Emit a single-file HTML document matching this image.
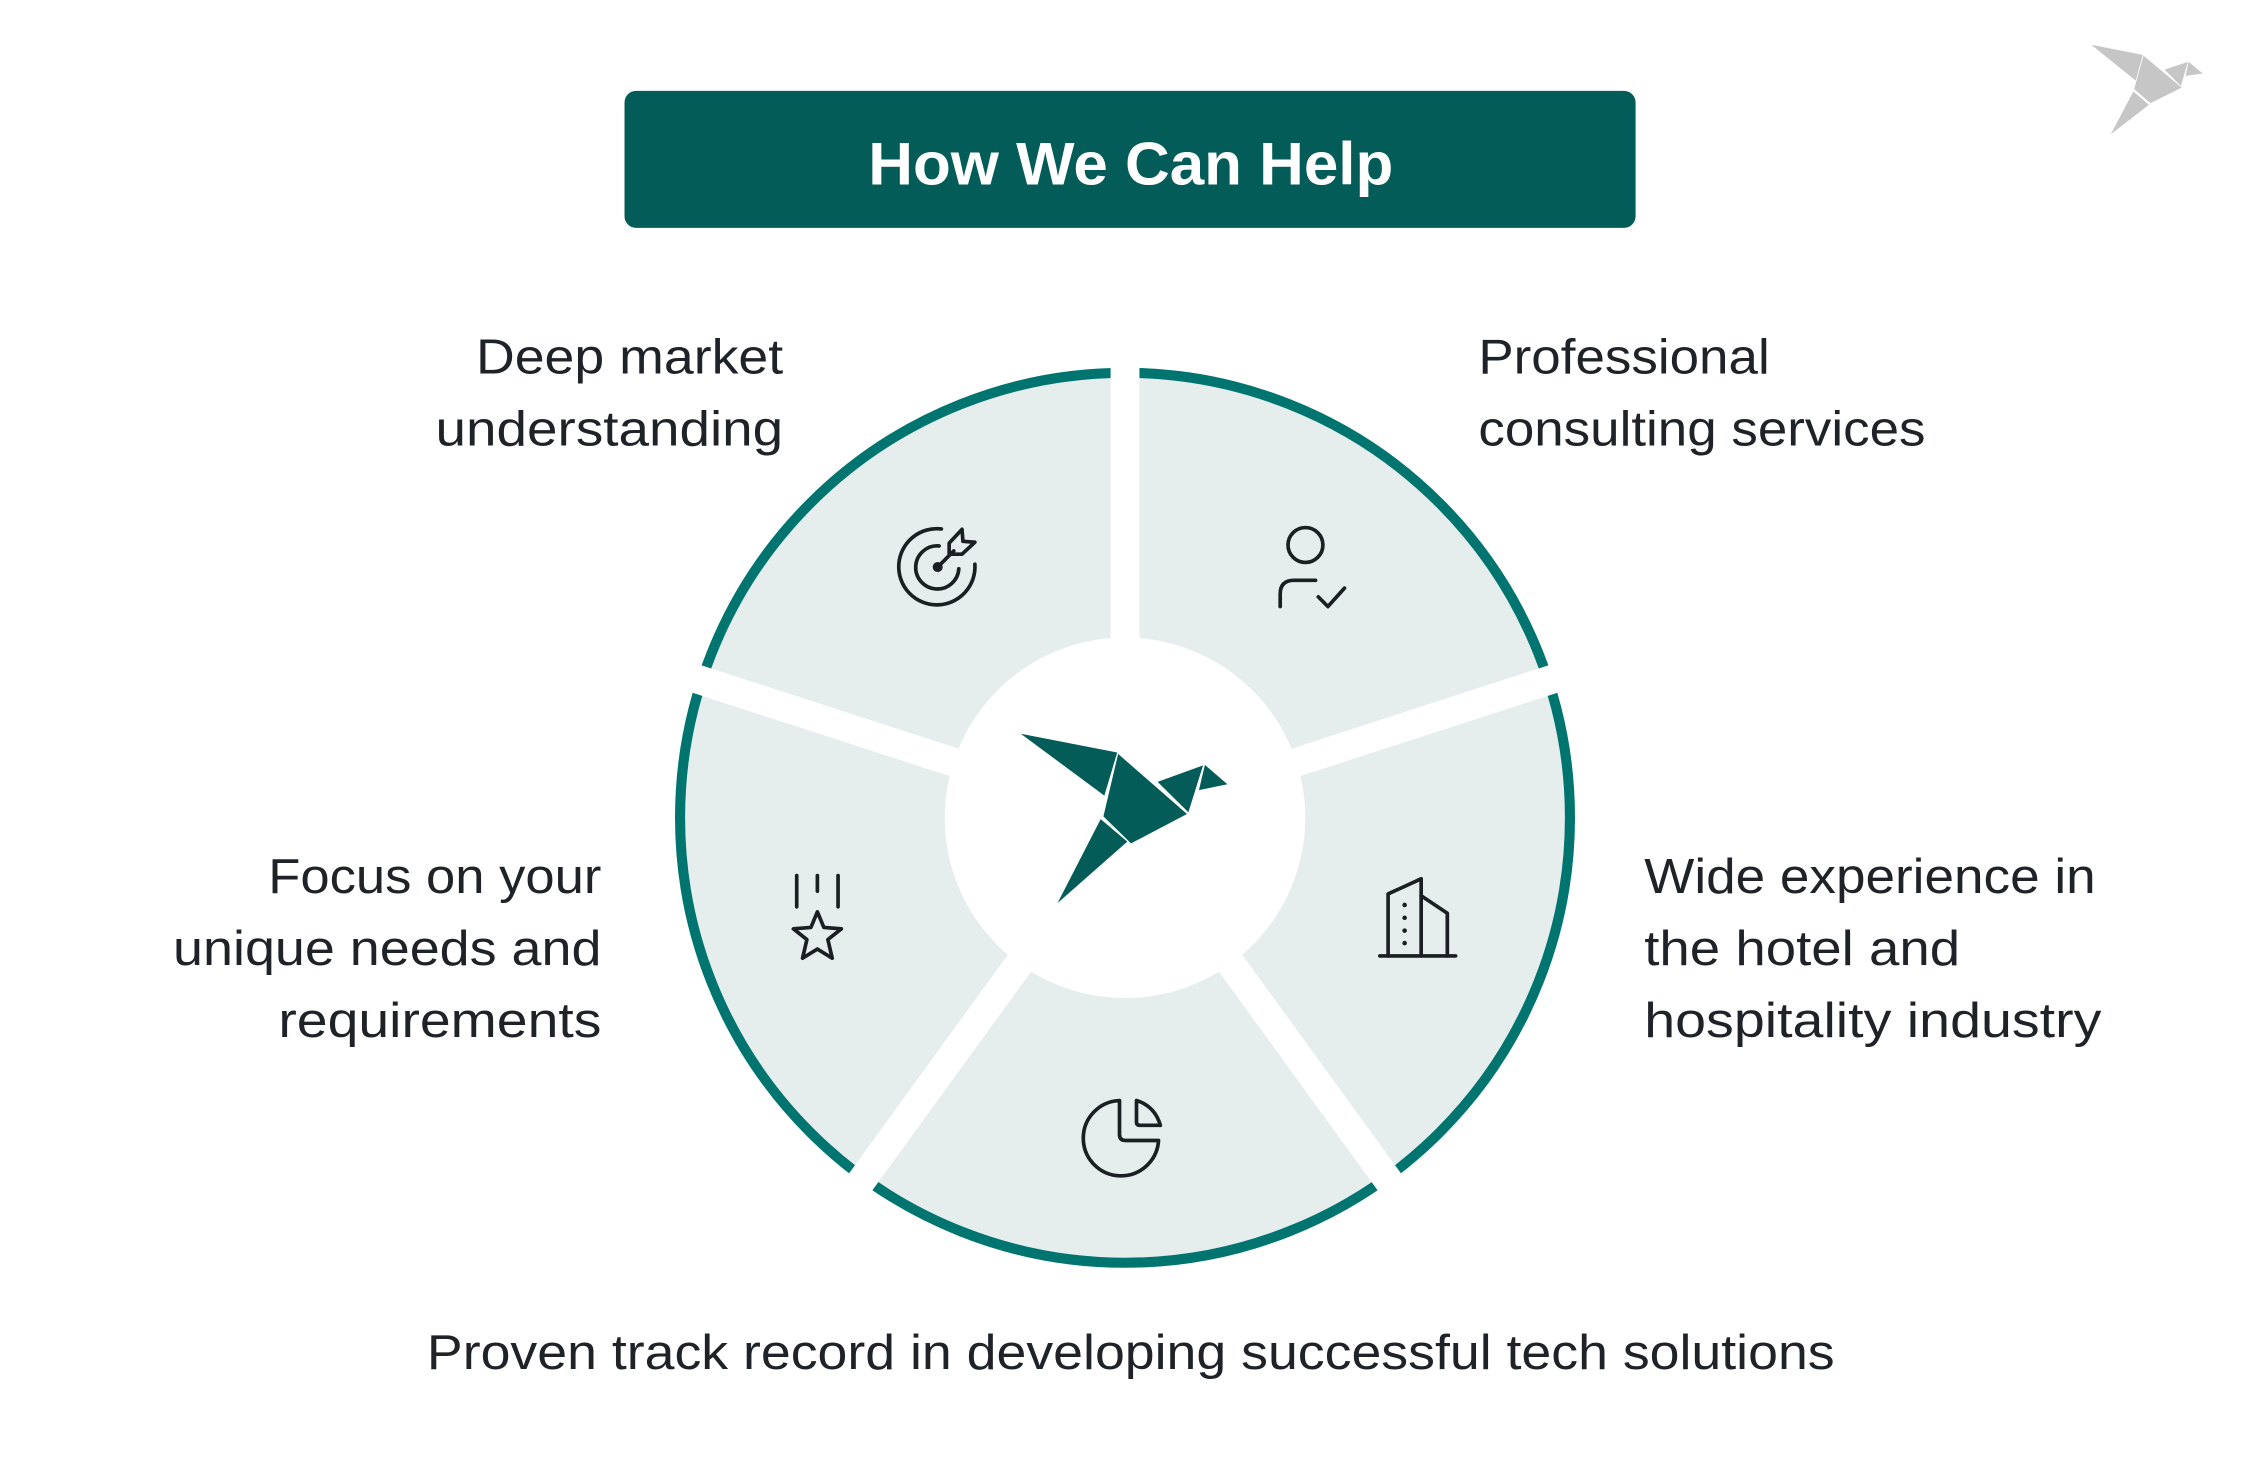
<!DOCTYPE html>
<html><head><meta charset="utf-8"><style>
html,body{margin:0;padding:0;background:#fff;}
svg{display:block;}
text{font-family:"Liberation Sans",Arial,sans-serif;fill:#1f2328;}
</style></head><body>
<svg width="2250" height="1470" viewBox="0 0 1560 1019.2" xmlns="http://www.w3.org/2000/svg">
<rect x="0" y="0" width="1560" height="1020" fill="#fff"/>
<rect x="433" y="63" width="701" height="95" rx="8" fill="#035c58"/>
<text x="784" y="128" text-anchor="middle" font-size="42" font-weight="bold" style="fill:#fff" textLength="364" lengthAdjust="spacingAndGlyphs">How We Can Help</text>

<circle cx="780" cy="567" r="306" fill="#e5eeed"/>
<circle cx="780" cy="567" r="308.5" fill="none" stroke="#007570" stroke-width="7"/>
<g stroke="#fff" stroke-width="20">
  <line x1="780" y1="567" x2="780" y2="230"/>
  <line x1="780" y1="567" x2="1110" y2="460"/>
  <line x1="780" y1="567" x2="450" y2="460"/>
  <line x1="780" y1="567" x2="984" y2="848"/>
  <line x1="780" y1="567" x2="576" y2="848"/>
</g>
<circle cx="780" cy="567" r="125" fill="#fff"/>

<g transform="scale(0.69333) translate(760,500) scale(0.45914)">
  <g fill="#035c58" transform="translate(0,-8)">
    <polygon points="568,517 778,558 750,652"/>
    <polygon points="780,561 930,692 808,756 748,697"/>
    <polygon points="742,703 800,752 648,886"/>
    <polygon points="866,622 965,586 933,688"/>
    <polygon points="969,585 1018,627 956,640"/>
  </g>
  <g fill="none" stroke="#1b1f24" stroke-width="8" stroke-linecap="round" stroke-linejoin="round">
    <path d="M395,63 A83,83 0 1 0 468,140"/>
    <path d="M390,100 A47,47 0 1 0 433,150"/>
    <circle cx="387" cy="146" r="7" fill="#1b1f24"/>
    <line x1="387" y1="146" x2="422" y2="111"/>
    <polygon points="412,94 440,64 442,90 468,92 440,118 412,118"/>
    <circle cx="1188" cy="98" r="38"/>
    <path d="M1133,232 V205 Q1133,175 1163,175 H1210"/>
    <path d="M1216,211 L1237,232 L1273,192"/>
    <path d="M1350,993 H1515"/>
    <path d="M1368,993 V858 L1440,825 V993"/>
    <path d="M1440,862 L1497,900 V993"/>
    <path d="M783,1308 V1382 Q783,1395 796,1395 H868 A82,82 0 1 1 783,1308 Z"/>
    <path d="M820,1308 V1355 Q820,1362 828,1362 H872 Q860,1320 820,1308 Z"/>
    <line x1="80" y1="818" x2="80" y2="886"/>
    <line x1="125" y1="818" x2="125" y2="852"/>
    <line x1="170" y1="818" x2="170" y2="886"/>
    <polygon points="125,897 139.1,931 177.3,934 147.8,957.4 157.3,998 125,978 92.7,998 102.2,957.4 72.7,934 110.9,931"/>
  </g>
  <g fill="#1b1f24">
    <circle cx="1404" cy="882" r="5"/><circle cx="1404" cy="910" r="5"/>
    <circle cx="1404" cy="938" r="5"/><circle cx="1404" cy="965" r="5"/>
  </g>
</g>

<g transform="translate(1065.5,-243.3) scale(0.54)" fill="#c6c6c7">
  <polygon points="712,508 778,521 769,554"/>
  <polygon points="779,522 828,563 788,583 767,565"/>
  <polygon points="766,568 786,585 737,623"/>
  <polygon points="806,540 836,530 827,561"/>
  <polygon points="837,530 855,545 833,548"/>
</g>

<g font-size="34">
  <text x="543" y="259" text-anchor="end" textLength="213" lengthAdjust="spacingAndGlyphs">Deep market</text>
  <text x="543" y="309" text-anchor="end" textLength="241" lengthAdjust="spacingAndGlyphs">understanding</text>
  <text x="1025" y="259" textLength="202" lengthAdjust="spacingAndGlyphs">Professional</text>
  <text x="1025" y="309" textLength="310" lengthAdjust="spacingAndGlyphs">consulting services</text>
  <text x="417" y="619" text-anchor="end" textLength="231" lengthAdjust="spacingAndGlyphs">Focus on your</text>
  <text x="417" y="669" text-anchor="end" textLength="297" lengthAdjust="spacingAndGlyphs">unique needs and</text>
  <text x="417" y="719" text-anchor="end" textLength="224" lengthAdjust="spacingAndGlyphs">requirements</text>
  <text x="1140" y="619" textLength="313" lengthAdjust="spacingAndGlyphs">Wide experience in</text>
  <text x="1140" y="669" textLength="219" lengthAdjust="spacingAndGlyphs">the hotel and</text>
  <text x="1140" y="719" textLength="317" lengthAdjust="spacingAndGlyphs">hospitality industry</text>
  <text x="296" y="949" textLength="976" lengthAdjust="spacingAndGlyphs">Proven track record in developing successful tech solutions</text>
</g>
</svg>
</body></html>
